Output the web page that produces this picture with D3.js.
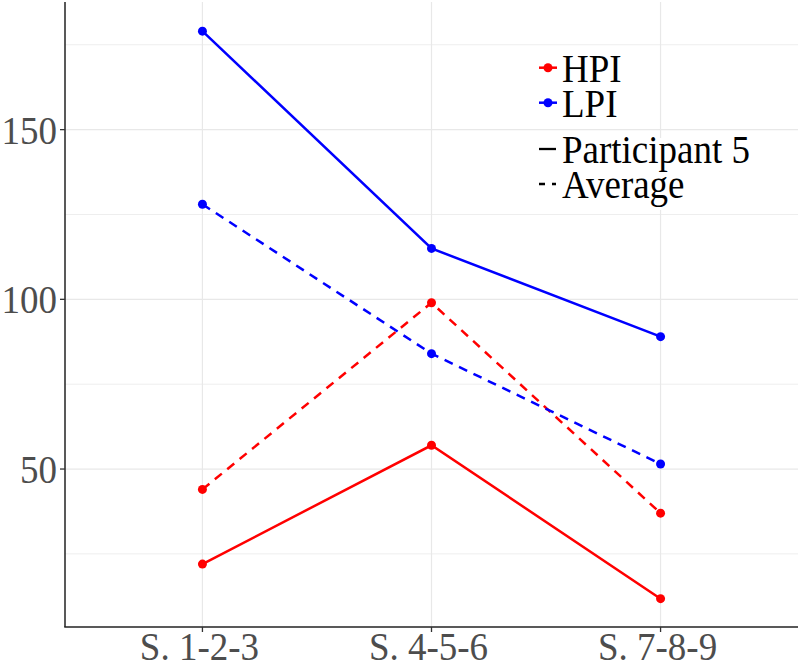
<!DOCTYPE html>
<html><head><meta charset="utf-8">
<script src="https://cdn.jsdelivr.net/npm/d3@7"></script>
<style>body{margin:0;background:#fff}svg{display:block}</style>
</head><body>
<svg id="c" width="800" height="664"></svg>
<script>
const categories = ["S. 1-2-3", "S. 4-5-6", "S. 7-8-9"];
const hpiParticipant = [22, 57, 11.8];
const hpiAverage = [44, 99, 37];
const lpiParticipant = [179, 115, 89];
const lpiAverage = [128, 84, 51.5];
const yTicks = [50, 100, 150];
const yMinor = [25, 75, 125, 175];
const colorLegend = ["HPI", "LPI"];
const typeLegend = ["Participant 5", "Average"];

const series = [
  {name: "HPI", type: "Participant 5", values: hpiParticipant, color: "#FF0000"},
  {name: "HPI", type: "Average", values: hpiAverage, color: "#FF0000"},
  {name: "LPI", type: "Participant 5", values: lpiParticipant, color: "#0000FF"},
  {name: "LPI", type: "Average", values: lpiAverage, color: "#0000FF"}
];

const svg = d3.select("#c");
const L = 65, R = 798, T = 2, B = 627;
const x = d3.scaleLinear().domain([0.4, 3.6]).range([L, R]);
const y = d3.scaleLinear().domain([3.46, 187.6]).range([B, T]);
const FONT = '"Liberation Serif", "Times New Roman", serif';
const SY = 1.11;

// grid
const g = svg.append("g");
g.selectAll(".minor").data(yMinor).join("line")
  .attr("x1", L).attr("x2", R).attr("y1", d => y(d)).attr("y2", d => y(d))
  .attr("stroke", "#EEEEEE").attr("stroke-width", 1);
g.selectAll(".major").data(yTicks).join("line")
  .attr("x1", L).attr("x2", R).attr("y1", d => y(d)).attr("y2", d => y(d))
  .attr("stroke", "#E8E8E8").attr("stroke-width", 1.2);
g.selectAll(".vmaj").data(categories).join("line")
  .attr("x1", (d, i) => x(i + 1)).attr("x2", (d, i) => x(i + 1)).attr("y1", T).attr("y2", B)
  .attr("stroke", "#E8E8E8").attr("stroke-width", 1.2);

// white background for linetype legend
svg.append("rect").attr("x", 530).attr("y", 138).attr("width", 200).attr("height", 72).attr("fill", "#fff");

// lines
const line = d3.line().x((d, i) => x(i + 1)).y(d => y(d));
series.forEach(s => {
  svg.append("path").datum(s.values).attr("d", line)
    .attr("fill", "none").attr("stroke", s.color).attr("stroke-width", 2.5)
    .attr("stroke-dasharray", s.type === "Average" ? "9,7" : null);
  svg.selectAll(null).data(s.values).join("circle")
    .attr("cx", (d, i) => x(i + 1)).attr("cy", d => y(d)).attr("r", 4.5).attr("fill", s.color);
});

// axes
svg.append("line").attr("x1", L).attr("x2", L).attr("y1", T).attr("y2", B)
  .attr("stroke", "#222").attr("stroke-width", 1.5);
svg.append("line").attr("x1", L - 0.75).attr("x2", R).attr("y1", B).attr("y2", B)
  .attr("stroke", "#222").attr("stroke-width", 1.5);
yTicks.forEach(t => {
  svg.append("line").attr("x1", L - 5).attr("x2", L).attr("y1", y(t)).attr("y2", y(t))
    .attr("stroke", "#333").attr("stroke-width", 1.3);
  svg.append("text").attr("transform", `translate(${L - 8},${y(t) + 14}) scale(1,${SY})`)
    .attr("text-anchor", "end").style("font-family", FONT).attr("font-size", 37)
    .attr("fill", "#4D4D4D").text(t);
});
categories.forEach((c, i) => {
  svg.append("line").attr("x1", x(i + 1)).attr("x2", x(i + 1)).attr("y1", B).attr("y2", B + 5)
    .attr("stroke", "#333").attr("stroke-width", 1.3);
  svg.append("text").attr("transform", `translate(${x(i + 1) - 3},${B + 33}) scale(1,${SY})`)
    .attr("text-anchor", "middle").style("font-family", FONT).attr("font-size", 37)
    .attr("fill", "#4D4D4D").text(c);
});

// legends
const legColors = {"HPI": "#FF0000", "LPI": "#0000FF"};
colorLegend.forEach((n, i) => {
  const cy = 67.7 + i * 35;
  svg.append("line").attr("x1", 539).attr("x2", 557).attr("y1", cy).attr("y2", cy)
    .attr("stroke", legColors[n]).attr("stroke-width", 2.5);
  svg.append("circle").attr("cx", 548).attr("cy", cy).attr("r", 4.5).attr("fill", legColors[n]);
  svg.append("text").attr("transform", `translate(562,${cy + 14}) scale(1,${SY})`)
    .style("font-family", FONT).attr("font-size", 37).attr("fill", "#000").text(n);
});
typeLegend.forEach((n, i) => {
  const cy = 149 + i * 35;
  svg.append("line").attr("x1", 539).attr("x2", 556).attr("y1", cy).attr("y2", cy)
    .attr("stroke", "#000").attr("stroke-width", 2.3)
    .attr("stroke-dasharray", n === "Average" ? "6,7" : null);
  svg.append("text").attr("transform", `translate(562,${cy + 14}) scale(1,${SY})`)
    .style("font-family", FONT).attr("font-size", 37).attr("fill", "#000").text(n);
});
</script>
</body></html>
